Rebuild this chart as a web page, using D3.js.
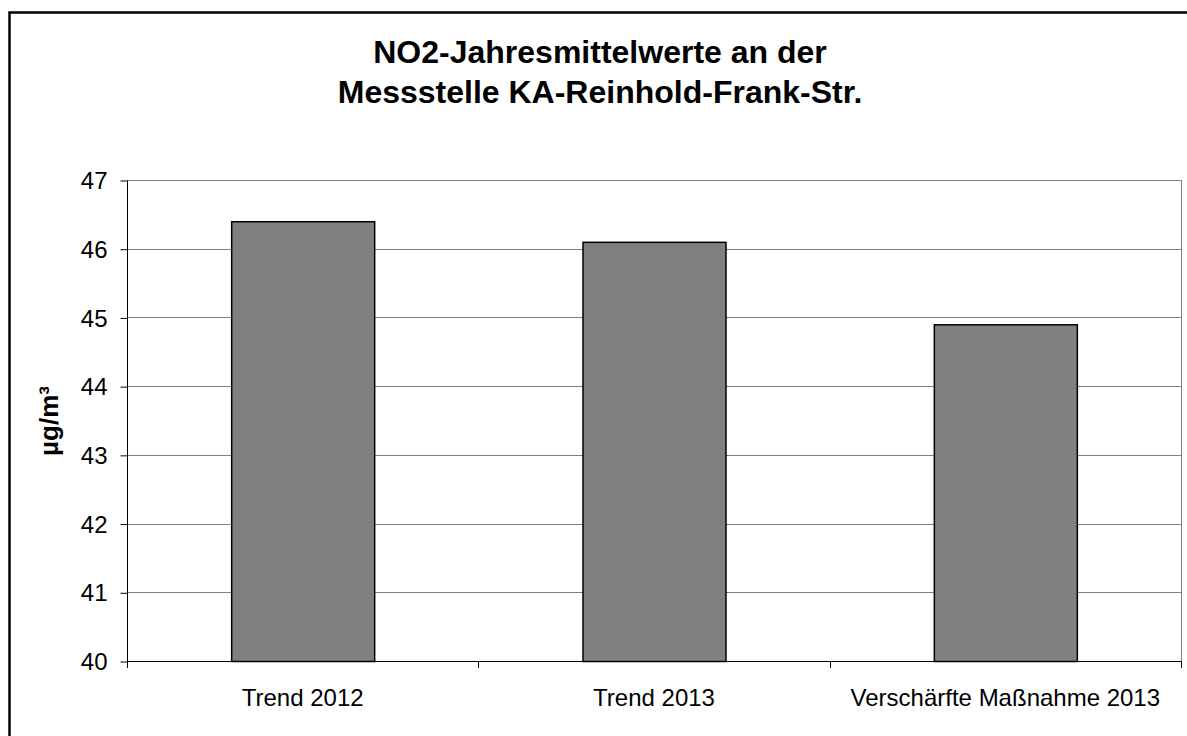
<!DOCTYPE html>
<html><head><meta charset="utf-8">
<script src="https://cdn.jsdelivr.net/npm/d3@7"></script>
<style>body{margin:0;background:#fff}svg{display:block;font-family:"Liberation Sans",Arial,sans-serif}</style>
</head><body>
<script>
const categories = ["Trend 2012", "Trend 2013", "Verschärfte Maßnahme 2013"];
const values = [46.4, 46.1, 44.9];
const yTicks = [40, 41, 42, 43, 44, 45, 46, 47];
const titleLines = ["NO2-Jahresmittelwerte an der", "Messstelle KA-Reinhold-Frank-Str."];
const yLabel = "µg/m³";

const W = 1187, H = 736;
const svg = d3.select("body").append("svg").attr("width", W).attr("height", H);

// outer frame (top & left visible)
svg.append("path").attr("d", `M9.5,${H} V12.5 H${W}`).attr("fill","none").attr("stroke","#000").attr("stroke-width",2.5);

const pLeft = 127, pRight = 1181, pTop = 180, pBottom = 661;
const x = d3.scaleBand().domain(categories).range([pLeft, pRight]).paddingInner(0.593).paddingOuter(0.2965);
const y = d3.scaleLinear().domain([40, 47]).range([pBottom, pTop]);

// gridlines
svg.append("g").selectAll("line").data(yTicks.slice(1)).join("line")
  .attr("x1", pLeft).attr("x2", pRight).attr("y1", d => Math.round(y(d))+0.5).attr("y2", d => Math.round(y(d))+0.5)
  .attr("stroke", "#808080").attr("stroke-width", 1);
// right border of plot
svg.append("line").attr("x1", pRight+0.5).attr("x2", pRight+0.5).attr("y1", pTop).attr("y2", pBottom).attr("stroke","#808080");

// bars
svg.append("g").selectAll("rect").data(values).join("rect")
  .attr("x", (d,i) => x(categories[i])+0.5).attr("width", x.bandwidth())
  .attr("y", d => y(d)+0.5).attr("height", d => y(40) - y(d))
  .attr("fill", "#808080").attr("stroke", "#000").attr("stroke-width", 1.5);

// y axis
const yAxis = d3.axisLeft(y).tickValues(yTicks).tickSize(7).tickPadding(5).tickFormat(d3.format("d"));
const gy = svg.append("g").attr("transform", `translate(${pLeft+0.5},0.5)`).call(yAxis);
gy.select(".domain").attr("stroke","#000").attr("d", `M0,${pTop}V${pBottom}`);
gy.selectAll(".tick line").attr("stroke","#000");
gy.selectAll("text").attr("font-size", 24).attr("fill","#000").attr("font-family","Liberation Sans, Arial, sans-serif").attr("dx", -8).attr("dy", "0.34em");

// x axis
const xEdges = [pLeft, pLeft + (pRight-pLeft)/3, pLeft + 2*(pRight-pLeft)/3, pRight];
const gx = svg.append("g");
gx.append("line").attr("x1", pLeft).attr("x2", pRight).attr("y1", pBottom+0.5).attr("y2", pBottom+0.5).attr("stroke","#000");
gx.selectAll("line.t").data(xEdges).join("line").attr("class","t")
  .attr("x1", d => Math.round(d)+0.5).attr("x2", d => Math.round(d)+0.5)
  .attr("y1", pBottom).attr("y2", pBottom+7).attr("stroke","#000");
gx.selectAll("text").data(categories).join("text")
  .attr("x", d => x(d) + x.bandwidth()/2).attr("y", 706)
  .attr("text-anchor","middle").attr("font-size", 24).attr("fill","#000").text(d => d);

// title
svg.append("g").selectAll("text").data(titleLines).join("text")
  .attr("x", 600).attr("y", (d,i) => 63 + i*40)
  .attr("text-anchor","middle").attr("font-size", 32).attr("font-weight","bold").text(d => d);

// y label
svg.append("text").attr("transform", "translate(58,421) rotate(-90)")
  .attr("text-anchor","middle").attr("font-size", 26).attr("font-weight","bold").text(yLabel);
</script>
</body></html>
